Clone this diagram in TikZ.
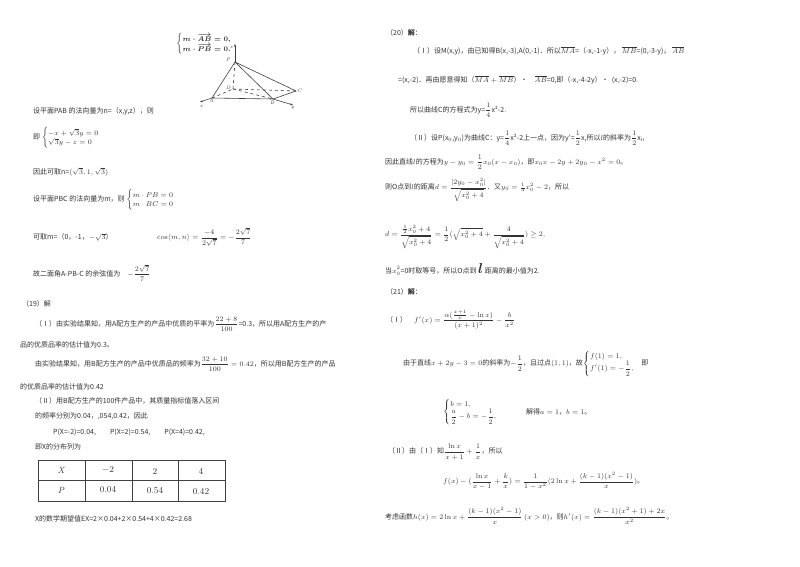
\documentclass[tikz,border=0pt]{standalone}
\usepackage{amsmath}
\usepackage{fontspec}
\newfontfamily\cjk{Noto Sans CJK SC}
\usetikzlibrary{arrows.meta}
\begin{document}
\begin{tikzpicture}[x=1pt,y=-1pt,
  t/.style={anchor=west,inner sep=0pt,font=\cjk\fontsize{7}{8}\selectfont,text=black!80},
  ln/.style={line width=0.6pt,black!75},
  dl/.style={ln,dashed}]
\useasboundingbox[fill=white] (0,0) rectangle (800,566);
% ---------- left column
\node[t] (b0) at (176,44) {$\begin{cases}\boldsymbol{m\cdot\overrightarrow{AB}=0,}\\ \boldsymbol{m\cdot\overrightarrow{PB}=0.}\end{cases}$};
% pyramid
\coordinate (P) at (235,62); \coordinate (D) at (233,89); \coordinate (C) at (296,91);
\coordinate (A) at (212,98); \coordinate (B) at (273,99);
\coordinate (xe) at (200,102); \coordinate (ye) at (293,105); \coordinate (ze) at (235,44);
\draw[ln] (A)--(P)--(B) (P)--(C)--(B)--(A);
\draw[dl] (P)--(D) (D)--(C) (A)--(D) (D)--(B);
\draw[ln,-{Stealth[length=3pt]}] (A)--(xe);
\draw[ln,-{Stealth[length=3pt]}] (B)--(ye);
\draw[ln,-{Stealth[length=3pt]}] (P)--(ze);
\node[t,font=\itshape\tiny] (lP) at (226,60) {P};
\node[t,font=\itshape\tiny] (lD) at (226,88) {D};
\node[t,font=\itshape\tiny] (lC) at (297,91) {C};
\node[t,font=\itshape\tiny] (lA) at (209,101) {A};
\node[t,font=\itshape\tiny] (lB) at (270,103) {B};
\node[t,font=\itshape\tiny] (lx) at (200,106) {x};
\node[t,font=\itshape\tiny] (ly) at (291,108) {y};
\node[t,font=\itshape\tiny] (lz) at (230,47) {z};
\node[t] (a1) at (33,111) {设平面PAB 的法向量为n=（x,y,z），则};
\node[t] (a2) at (33,138) {即 $\begin{cases}-x+\sqrt3y=0\\ \sqrt3y-z=0\end{cases}$};
\node[t] (a3) at (33,172) {因此可取n=$(\sqrt3,1,\sqrt3)$};
\node[t] (a4) at (33,200) {设平面PBC 的法向量为m，则 $\begin{cases}m\cdot PB=0\\ m\cdot BC=0\end{cases}$};
\node[t] (a5) at (33,237) {可取m=（0，-1，$-\sqrt3$）};
\node[t] (a6) at (157,237) {$\cos\langle m,n\rangle=\dfrac{-4}{2\sqrt7}=-\dfrac{2\sqrt7}{7}$};
\node[t] (a7) at (33,273) {故二面角A-PB-C 的余弦值为\quad $-\dfrac{2\sqrt7}{7}$};
\node[t] (a8) at (22,304) {（19）解};
\node[t] (a9) at (35,324) {（Ⅰ）由实验结果知，用A配方生产的产品中优质的平率为$\dfrac{22+8}{100}$=0.3，所以用A配方生产的产};
\node[t] (a10) at (20,345) {品的优质品率的估计值为0.3。};
\node[t] (a11) at (35,364) {由实验结果知，用B配方生产的产品中优质品的频率为$\dfrac{32+10}{100}=0.42$，所以用B配方生产的产品};
\node[t] (a12) at (20,387) {的优质品率的估计值为0.42};
\node[t] (a13) at (35,401) {（Ⅱ）用B配方生产的100件产品中，其质量指标值落入区间};
\node[t] (a14) at (35,416) {的频率分别为0.04，,054,0.42，因此};
\node[t] (a15) at (53,432) {P(X=-2)=0.04,\qquad P(X=2)=0.54,\qquad P(X=4)=0.42,};
\node[t] (a16) at (35,447) {即X的分布列为};
\draw[ln,line width=0.9pt] (38,460) rectangle (225,501);
\draw[ln,line width=0.9pt] (38,480)--(225,480) (85,460)--(85,501) (132,460)--(132,501) (178,460)--(178,501);
\node[t,anchor=center,font=\small\itshape] (c1) at (61,470) {X};
\node[t,anchor=center,font=\small] (c2) at (108,470) {$-2$};
\node[t,anchor=center,font=\small] (c3) at (155,471) {2};
\node[t,anchor=center,font=\small] (c4) at (201,471) {4};
\node[t,anchor=center,font=\small\itshape] (c5) at (61,490) {P};
\node[t,anchor=center,font=\small] (c6) at (108,490) {0.04};
\node[t,anchor=center,font=\small] (c7) at (155,491) {0.54};
\node[t,anchor=center,font=\small] (c8) at (201,492) {0.42};
\node[t] (a17) at (35,519) {X的数学期望值EX=2×0.04+2×0.54+4×0.42=2.68};
% ---------- right column
\node[t] (r1) at (386,33) {（20）\textbf{解}：};
\node[t] (r2) at (413,51) {（Ⅰ）设M(x,y)，由已知得B(x,-3),A(0,-1)．所以$\overline{MA}$=（-x,-1-y），\ $\overline{MB}$=(0,-3-y)，\ $\overline{AB}$};
\node[t] (r3) at (398,80) {=(x,-2)．再由愿意得知（$\overline{MA}+\overline{MB}$）•\quad $\overline{AB}$=0,即（-x,-4-2y）•\ \ (x,-2)=0.};
\node[t] (r4) at (410,110) {所以曲线C的方程式为y=$\dfrac14$x²-2.};
\node[t] (r5) at (410,138) {（Ⅱ）设P(x$_0$,y$_0$)为曲线C：y=$\dfrac14$x²-2上一点，因为y′=$\dfrac12$x,所以$l$的斜率为$\dfrac12$x$_0$};
\node[t] (r6) at (385,162) {因此直线$l$的方程为$y-y_0=\dfrac12x_0(x-x_0)$，即$x_0x-2y+2y_0-x^2=0$。};
\node[t] (r7) at (385,190) {则O点到$l$的距离$d=\dfrac{|2y_0-x_0^2|}{\sqrt{x_0^2+4}}$．又$y_0=\frac14x_0^2-2$，所以};
\node[t] (r8) at (385,237) {$d=\dfrac{\frac12x_0^2+4}{\sqrt{x_0^2+4}}=\dfrac12(\sqrt{x_0^2+4}+\dfrac{4}{\sqrt{x_0^2+4}})\ge2,$};
\node[t] (r9) at (385,269) {当$x_0^2$=0时取等号，所以O点到 {\Large$\boldsymbol{l}$} 距离的最小值为2.};
\node[t] (r10) at (386,292) {（21）\textbf{解}：};
\node[t] (r11) at (386,320) {（Ⅰ）\quad $f'(x)=\dfrac{\alpha(\frac{x+1}{x}-\ln x)}{(x+1)^2}-\dfrac{b}{x^2}$};
\node[t] (r12) at (403,364) {由于直线$x+2y-3=0$的斜率为$-\dfrac12$，且过点$(1,1)$，故$\begin{cases}f(1)=1,\\ f'(1)=-\dfrac12,\end{cases}$即};
\node[t] (r13) at (443,412) {$\begin{cases}b=1,\\ \dfrac a2-b=-\dfrac12,\end{cases}$};
\node[t] (r14) at (526,412) {解得$a=1$，$b=1$。};
\node[t] (r15) at (388,452) {（Ⅱ）由（Ⅰ）知$\dfrac{\ln x}{x+1}+\dfrac1x$，所以};
\node[t] (r16) at (443,481) {$f(x)-(\dfrac{\ln x}{x-1}+\dfrac kx)=\dfrac{1}{1-x^2}(2\ln x+\dfrac{(k-1)(x^2-1)}{x})$。};
\node[t] (r17) at (385,516) {考虑函数$h(x)=2\ln x+\dfrac{(k-1)(x^2-1)}{x}\ (x>0)$，则$h'(x)=\dfrac{(k-1)(x^2+1)+2x}{x^2}$。};
\end{tikzpicture}
\end{document}
